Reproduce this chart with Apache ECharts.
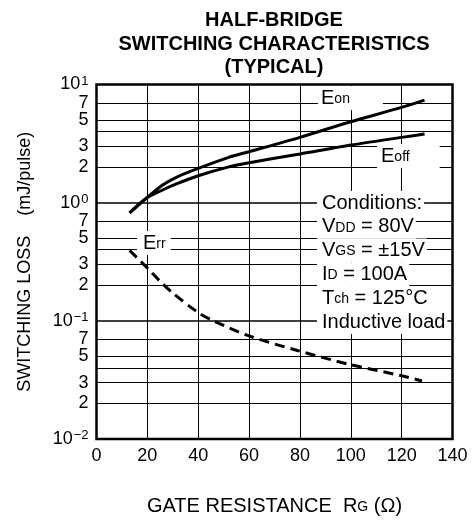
<!DOCTYPE html>
<html>
<head>
<meta charset="utf-8">
<script src="https://cdn.jsdelivr.net/npm/echarts@6/dist/echarts.min.js"></script>
<style>
html,body{margin:0;padding:0;background:#fff;}
#c{width:474px;height:521px;}
</style>
</head>
<body>
<div id="c"></div>
<script>
// ---- data ----
const eonX  = [13, 19.6, 26, 31.4, 40, 52, 60, 80, 100, 120, 129];
const eonY  = [0.82, 1.09, 1.41, 1.64, 1.95, 2.42, 2.7, 3.57, 4.84, 6.4, 7.38];
const eoffX = [13, 19.6, 26, 31.4, 40, 52, 60, 80, 100, 120, 129];
const eoffY = [0.82, 1.09, 1.28, 1.44, 1.69, 2.01, 2.18, 2.58, 3.07, 3.57, 3.81];
const errX  = [13, 20, 25, 30, 40, 46, 60, 79, 100, 120, 128];
const errY  = [0.395, 0.28, 0.216, 0.172, 0.1175, 0.1, 0.0745, 0.0561, 0.0425, 0.0343, 0.031];

const xTicks = [0, 20, 40, 60, 80, 100, 120, 140];
const yLabelValues = [0.01, 0.02, 0.03, 0.05, 0.07, 0.1, 0.2, 0.3, 0.5, 0.7, 1, 2, 3, 5, 7, 10];
const yLabelTexts  = ['10|−2', '2', '3', '5', '7', '10|−1', '2', '3', '5', '7', '10|0', '2', '3', '5', '7', '10|1'];
const yGridValues  = [0.02, 0.03, 0.04, 0.05, 0.07, 0.1, 0.2, 0.3, 0.4, 0.5, 0.7, 1, 2, 3, 4, 5, 7];
const decadeValues = [0.1, 1];

const conditions = [
  '{t|Conditions:}',
  '{t|V}{s|DD}{t| = 80V}',
  '{t|V}{s|GS}{t| = ±15V}',
  '{t|I}{s|D}{t| = 100A}',
  '{t|T}{s|ch}{t| = 125°C}',
  '{t|Inductive load}'
];

const FONT = '"Liberation Sans", Arial, Helvetica, sans-serif';
const chart = echarts.init(document.getElementById('c'), null, {renderer: 'canvas'});

function pairs(xs, ys) { return xs.map((x, i) => [x, ys[i]]); }

function yFmt(v) {
  let best = 0, bd = Infinity;
  yLabelValues.forEach((lv, i) => {
    const d = Math.abs(Math.log10(lv) - Math.log10(v));
    if (d < bd) { bd = d; best = i; }
  });
  const t = yLabelTexts[best];
  if (t.indexOf('|') >= 0) {
    const p = t.split('|');
    return '{b|' + p[0] + '}{sup|' + p[1] + '}';
  }
  return '{b|' + t + '}';
}

const richBase = {
  t: {fontSize: 20, fontFamily: FONT, color: '#000', lineHeight: 24, verticalAlign: 'middle'},
  s: {fontSize: 14, fontFamily: FONT, color: '#000', lineHeight: 20, verticalAlign: 'middle', padding: [2, 0, 0, 0]}
};

const gridLines = yGridValues.map(v => ({
  yAxis: v,
  lineStyle: {color: '#000', width: decadeValues.indexOf(v) >= 0 ? 1.6 : 1, type: 'solid'}
}));

const graphics = [];
graphics.push({
  type: 'text', z: 100,
  x: 274, y: 9,
  style: {
    text: 'HALF-BRIDGE\nSWITCHING CHARACTERISTICS\n(TYPICAL)',
    font: 'bold 20px ' + FONT, fill: '#000', align: 'center', lineHeight: 23.5
  }
});
function label(x, y, text, padding) {
  graphics.push({
    type: 'text', z: 100, x: x, y: y,
    style: {
      text: text, rich: richBase, backgroundColor: '#fff',
      padding: padding, verticalAlign: 'middle', align: 'left'
    }
  });
}
label(318, 98, '{t|E}{s|on}', [0, 33, 0, 3]);
label(377, 156, '{t|E}{s|off}', [0, 30, 0, 4]);
label(137, 243, '{t|E}{s|rr}', [0, 5, 0, 6]);
const rowY = [203, 226.8, 250.6, 274.4, 298.2, 322];
conditions.forEach((c, i) => label(317, rowY[i], c, [0, 2, 0, 5]));

const option = {
  animation: false,
  backgroundColor: '#fff',
  grid: {left: 96.5, right: 21.5, top: 84.5, bottom: 81, show: true, borderColor: '#000', borderWidth: 2.5, backgroundColor: 'transparent'},
  xAxis: {
    type: 'value', min: 0, max: 140, interval: 20,
    axisLine: {show: false}, axisTick: {show: false},
    splitLine: {show: true, lineStyle: {color: '#000', width: 1}},
    axisLabel: {
      fontSize: 18, fontFamily: FONT, color: '#000', margin: 8,
      formatter: v => (xTicks.indexOf(v) >= 0 ? String(v) : '')
    },
    name: '{a|GATE RESISTANCE  R}{g|G}{a| (Ω)}',
    nameLocation: 'middle', nameGap: 56,
    nameTextStyle: {
      rich: {
        a: {fontSize: 20, fontFamily: FONT, color: '#000', lineHeight: 22, verticalAlign: 'middle'},
        g: {fontSize: 14, fontFamily: FONT, color: '#000', lineHeight: 18, verticalAlign: 'middle', padding: [2, 0, 0, 0]}
      }
    }
  },
  yAxis: {
    type: 'log', logBase: 10, min: 0.01, max: 10,
    axisLine: {show: false}, axisTick: {show: false},
    splitLine: {show: false}, minorSplitLine: {show: false},
    axisLabel: {
      customValues: yLabelValues,
      margin: 8, color: '#000',
      formatter: yFmt,
      rich: {
        b: {fontSize: 18, fontFamily: FONT, color: '#000', lineHeight: 20, verticalAlign: 'middle'},
        sup: {fontSize: 13, fontFamily: FONT, color: '#000', lineHeight: 20, verticalAlign: 'top', padding: [0, 0, 0, 1]}
      }
    },
    name: 'SWITCHING LOSS    (mJ/pulse)',
    nameLocation: 'middle', nameGap: 62, nameRotate: 90,
    nameTextStyle: {fontSize: 18, fontFamily: FONT, color: '#000'}
  },
  series: [
    {
      name: 'grid', type: 'line', data: [], silent: true,
      markLine: {silent: true, symbol: 'none', label: {show: false}, animation: false, data: gridLines}
    },
    {
      name: 'Eon', type: 'line', data: pairs(eonX, eonY), smooth: 0.3, showSymbol: false,
      lineStyle: {color: '#000', width: 3}, z: 5
    },
    {
      name: 'Eoff', type: 'line', data: pairs(eoffX, eoffY), smooth: 0.3, showSymbol: false,
      lineStyle: {color: '#000', width: 3}, z: 5
    },
    {
      name: 'Err', type: 'line', data: pairs(errX, errY), smooth: 0.3, showSymbol: false,
      lineStyle: {color: '#000', width: 3, type: [10, 6]}, z: 5
    }
  ],
  graphic: graphics
};
chart.setOption(option);
</script>
</body>
</html>
